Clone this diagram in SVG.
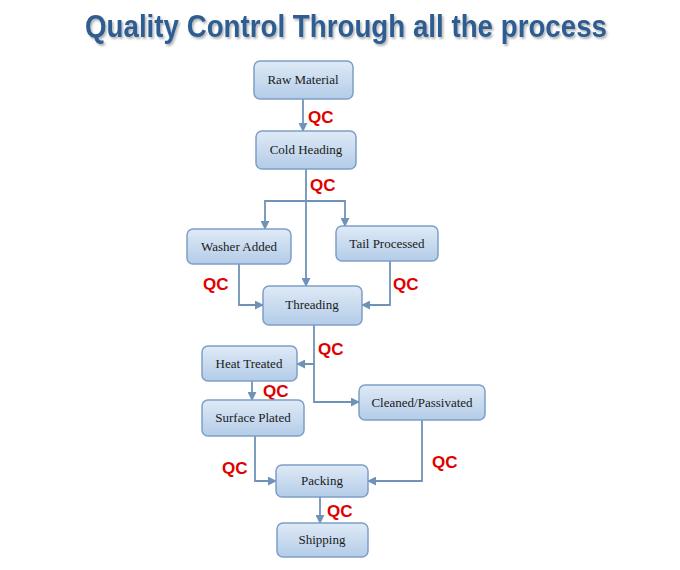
<svg xmlns="http://www.w3.org/2000/svg" width="680" height="570" viewBox="0 0 680 570">
<defs>
<linearGradient id="g" x1="0" y1="0" x2="0" y2="1"><stop offset="0" stop-color="#dfeaf6"/><stop offset="1" stop-color="#b3cce8"/></linearGradient>
<marker id="a" viewBox="0 0 10 10" refX="9" refY="5" markerWidth="5" markerHeight="5" orient="auto"><path d="M0,0L10,5L0,10z" fill="#6f93b8"/></marker>
<filter id="s" x="-5%" y="-20%" width="110%" height="150%"><feDropShadow dx="1.5" dy="2" stdDeviation="1.2" flood-color="#000" flood-opacity="0.3"/></filter>
</defs>
<style>
rect{fill:url(#g);stroke:#7d9fc8;stroke-width:1.5}
.t{font-family:"Liberation Serif",serif;font-size:13px;fill:#1a1a1a;text-anchor:middle}
.q{font-family:"Liberation Sans",Arial,sans-serif;font-size:17px;font-weight:bold;fill:#e00000}
#c path{fill:none;stroke:#6f93b8;stroke-width:1.8;marker-end:url(#a)}
</style>
<rect x="0" y="0" width="680" height="570" style="fill:#fff;stroke:none"/>
<text x="346" y="37" text-anchor="middle" textLength="522" lengthAdjust="spacingAndGlyphs" filter="url(#s)" style="font-family:'Liberation Sans',Arial,sans-serif;font-size:31px;font-weight:bold;fill:#2f5d91">Quality Control Through all the process</text>
<g id="c">
<path d="M303,99V131"/>
<path d="M306,169V286"/>
<path d="M306,201H265V229"/>
<path d="M306,201H345V226"/>
<path d="M239,264V305H263"/>
<path d="M390,261V305H362"/>
<path d="M314,325V364H297"/>
<path d="M314,364V402H359"/>
<path d="M252,381V400"/>
<path d="M255,436V481H276"/>
<path d="M422,420V481H368"/>
<path d="M320,497V523"/>
</g>
<g id="qc">
<text class="q" x="308" y="123">QC</text>
<text class="q" x="310" y="191">QC</text>
<text class="q" x="203" y="290">QC</text>
<text class="q" x="393" y="290">QC</text>
<text class="q" x="318" y="355">QC</text>
<text class="q" x="263" y="397">QC</text>
<text class="q" x="222" y="474">QC</text>
<text class="q" x="432" y="468">QC</text>
<text class="q" x="327" y="517">QC</text>
</g>
<g id="raw"><rect x="254" y="61" width="99" height="38" rx="6"/><text class="t" x="303" y="84">Raw Material</text></g>
<g id="cold"><rect x="256" y="131" width="100" height="38" rx="6"/><text class="t" x="306" y="154">Cold Heading</text></g>
<g id="washer"><rect x="187" y="229" width="104" height="35" rx="6"/><text class="t" x="239" y="251">Washer Added</text></g>
<g id="tail"><rect x="336" y="226" width="102" height="35" rx="6"/><text class="t" x="387" y="248">Tail Processed</text></g>
<g id="thread"><rect x="263" y="286" width="99" height="39" rx="6"/><text class="t" x="312" y="309">Threading</text></g>
<g id="heat"><rect x="202" y="346" width="95" height="35" rx="6"/><text class="t" x="249" y="368">Heat Treated</text></g>
<g id="surface"><rect x="202" y="400" width="102" height="36" rx="6"/><text class="t" x="253" y="422">Surface Plated</text></g>
<g id="clean"><rect x="359" y="385" width="126" height="35" rx="6"/><text class="t" x="422" y="407">Cleaned/Passivated</text></g>
<g id="pack"><rect x="276" y="465" width="92" height="32" rx="6"/><text class="t" x="322" y="485">Packing</text></g>
<g id="ship"><rect x="277" y="523" width="91" height="34" rx="6"/><text class="t" x="322" y="544">Shipping</text></g>
</svg>
